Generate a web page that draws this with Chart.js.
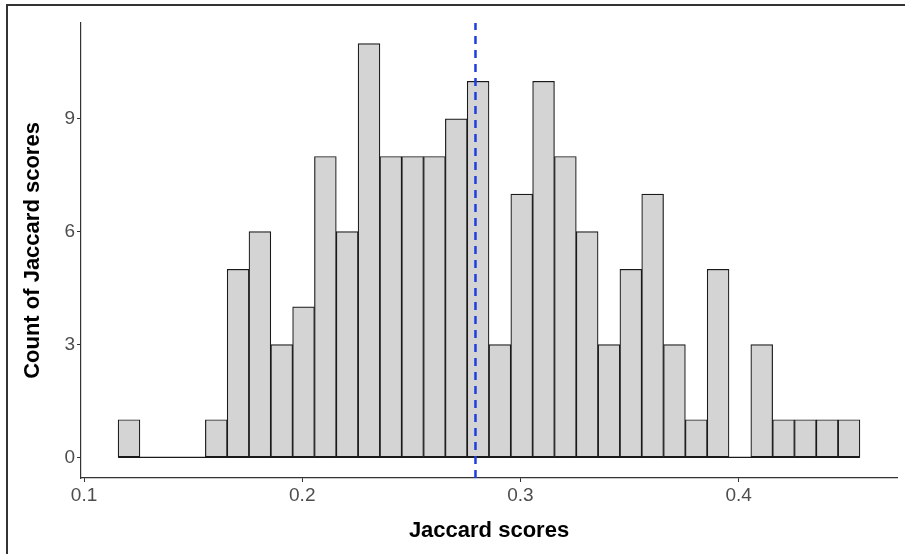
<!DOCTYPE html>
<html>
<head>
<meta charset="utf-8">
<script src="https://cdn.jsdelivr.net/npm/chart.js@4/dist/chart.umd.min.js"></script>
<style>
  html, body { margin: 0; padding: 0; background: #fff; }
  #wrap { position: relative; width: 905px; height: 554px; overflow: hidden; }
  #frame { position: absolute; left: 6px; top: 4px; width: 905px; height: 560px;
           border-left: 2px solid #333; border-top: 2px solid #333; pointer-events: none; }
  canvas { position: absolute; left: 0; top: 0; }
</style>
</head>
<body>
<div id="wrap">
  <canvas id="c" width="905" height="554"></canvas>
  <div id="frame"></div>
</div>
<script>
// Histogram bins (centres) and counts
const binCenters = [0.1206, 0.1306, 0.1406, 0.1506, 0.1606, 0.1706, 0.1806, 0.1906, 0.2006, 0.2106,
                    0.2206, 0.2306, 0.2406, 0.2506, 0.2606, 0.2706, 0.2806, 0.2906, 0.3006, 0.3106,
                    0.3206, 0.3306, 0.3406, 0.3506, 0.3606, 0.3706, 0.3806, 0.3906, 0.4006, 0.4106,
                    0.4206, 0.4306, 0.4406, 0.4506];
const counts = [1, 0, 0, 0, 1, 5, 6, 3, 4, 8,
                6, 11, 8, 8, 8, 9, 10, 3, 7, 10,
                8, 6, 3, 5, 7, 3, 1, 5, 0, 3,
                1, 1, 1, 1];
const binWidth = 0.01;
const meanScore = 0.2794;
const xTicks = [0.1, 0.2, 0.3, 0.4];
const yTicks = [0, 3, 6, 9];
const xRange = [0.0986, 0.4726];
const yRange = [-0.55, 11.55];
const xTitle = "Jaccard scores";
const yTitle = "Count of Jaccard scores";

const barData = binCenters.map((x, i) => ({ x: x, y: counts[i] }));
const baseline = [
  { x: binCenters[0] - binWidth / 2, y: 0 },
  { x: binCenters[binCenters.length - 1] + binWidth / 2, y: 0 }
];
const meanLine = [{ x: meanScore, y: yRange[0] }, { x: meanScore, y: yRange[1] }];

const FONT = "'Liberation Sans', Arial, Helvetica, sans-serif";

const titlePlugin = {
  id: 'axisTitles',
  afterDraw(chart) {
    const ctx = chart.ctx;
    const a = chart.chartArea;
    ctx.save();
    ctx.fillStyle = '#000';
    ctx.font = 'bold 22px ' + FONT;
    ctx.textAlign = 'center';
    ctx.textBaseline = 'middle';
    ctx.fillText(xTitle, (a.left + a.right) / 2, 531);
    ctx.translate(33, (a.top + a.bottom) / 2);
    ctx.rotate(-Math.PI / 2);
    ctx.fillText(yTitle, 0, 0);
    ctx.restore();
  }
};

new Chart(document.getElementById('c'), {
  type: 'bar',
  data: {
    datasets: [
      {
        type: 'line',
        data: baseline,
        borderColor: '#1a1a1a',
        borderWidth: 1.2,
        pointRadius: 0,
        fill: false,
        order: 2
      },
      {
        type: 'bar',
        data: barData,
        backgroundColor: '#d4d4d4',
        borderColor: '#1a1a1a',
        borderWidth: 1.2,
        borderSkipped: false,
        barPercentage: 1,
        categoryPercentage: 1,
        order: 1
      },
      {
        type: 'line',
        data: meanLine,
        borderColor: '#1d3fe0',
        borderWidth: 2.5,
        borderDash: [8, 6],
        pointRadius: 0,
        fill: false,
        order: 0
      }
    ]
  },
  options: {
    responsive: false,
    animation: false,
    events: [],
    layout: { padding: { left: 0, top: 23, right: 8, bottom: 0 } },
    plugins: { legend: { display: false }, tooltip: { enabled: false } },
    scales: {
      x: {
        type: 'linear',
        offset: false,
        min: xRange[0],
        max: xRange[1],
        afterBuildTicks: s => { s.ticks = xTicks.map(v => ({ value: v })); },
        afterFit: s => { s.height = 76; },
        border: { display: true, color: '#333', width: 1.2 },
        grid: { display: true, offset: false, drawOnChartArea: false, drawTicks: true, tickLength: 4, color: '#333', lineWidth: 1 },
        ticks: {
          color: '#4d4d4d',
          font: { family: FONT, size: 19 },
          padding: 2,
          maxRotation: 0,
          autoSkip: false,
          callback: v => String(v)
        }
      },
      y: {
        type: 'linear',
        min: yRange[0],
        max: yRange[1],
        afterBuildTicks: s => { s.ticks = yTicks.map(v => ({ value: v })); },
        afterFit: s => { s.width = 81; },
        border: { display: true, color: '#333', width: 1.2 },
        grid: { display: true, offset: false, drawOnChartArea: false, drawTicks: true, tickLength: 4, color: '#333', lineWidth: 1 },
        ticks: {
          color: '#4d4d4d',
          font: { family: FONT, size: 19 },
          padding: 2,
          autoSkip: false,
          callback: v => String(v)
        }
      }
    }
  },
  plugins: [titlePlugin]
});
</script>
</body>
</html>
